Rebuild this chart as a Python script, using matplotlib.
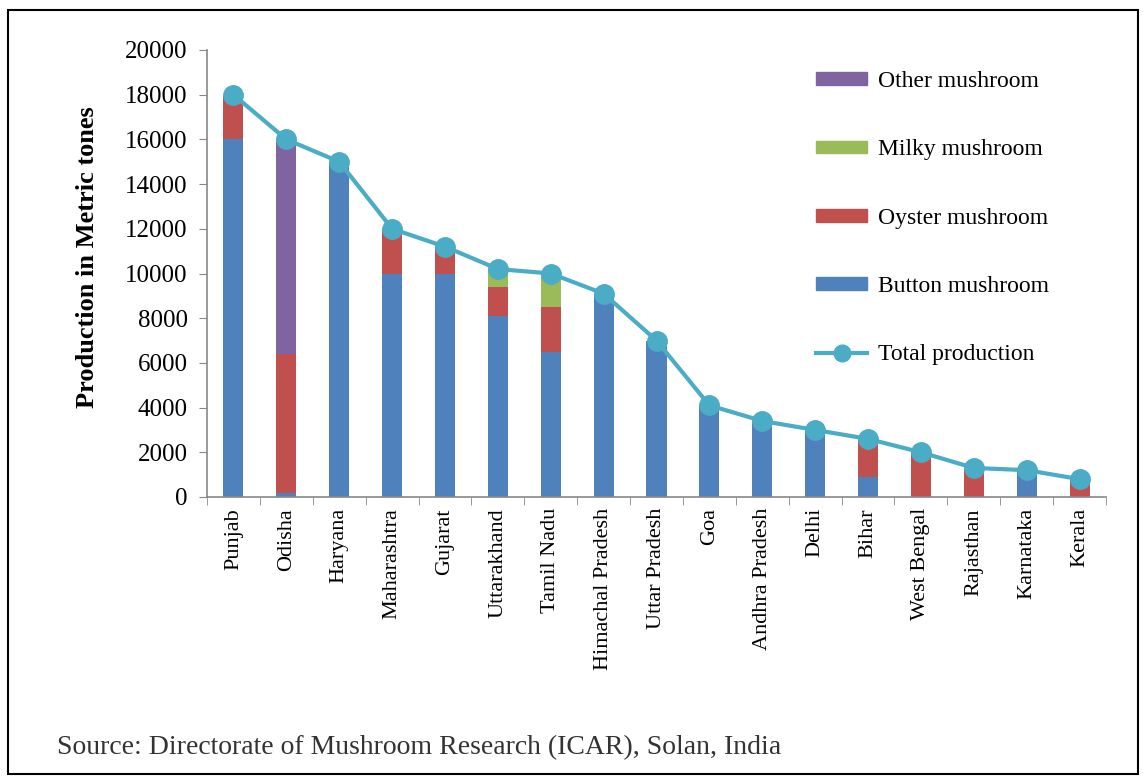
import numpy as np
import matplotlib.pyplot as plt
from matplotlib.patches import Rectangle
from matplotlib.lines import Line2D

# Mushroom production by state (metric tonnes)
states = ['Punjab', 'Odisha', 'Haryana', 'Maharashtra', 'Gujarat', 'Uttarakhand',
          'Tamil Nadu', 'Himachal Pradesh', 'Uttar Pradesh', 'Goa', 'Andhra Pradesh',
          'Delhi', 'Bihar', 'West Bengal', 'Rajasthan', 'Karnataka', 'Kerala']
button = [16000, 200, 15000, 10000, 10000, 8100, 6500, 9100, 7000, 4100, 3200,
          3000, 900, 0, 0, 1200, 0]
oyster = [2000, 6200, 0, 2000, 1200, 1300, 2000, 0, 0, 0, 200,
          0, 1700, 2000, 1300, 0, 800]
milky = [0, 0, 0, 0, 0, 800, 1500, 0, 0, 0, 0, 0, 0, 0, 0, 0, 0]
other = [0, 9600, 0, 0, 0, 0, 0, 0, 0, 0, 0, 0, 0, 0, 0, 0, 0]
total = [18000, 16000, 15000, 12000, 11200, 10200, 10000, 9100, 7000, 4100, 3400,
         3000, 2600, 2000, 1300, 1200, 800]

c_button = '#4f81bd'
c_oyster = '#c0504d'
c_milky = '#9bbb59'
c_other = '#8064a2'
c_total = '#4bacc6'

plt.rcParams['font.family'] = ['Liberation Serif', 'DejaVu Serif']

fig = plt.figure(figsize=(11.48, 7.76), dpi=100)
ax = fig.add_axes([207 / 1148, 1 - 497 / 776, (1106 - 207) / 1148, (497 - 50) / 776])

x = np.arange(len(states))
w = 0.38
b1 = np.array(button)
b2 = b1 + np.array(oyster)
b3 = b2 + np.array(milky)
ax.bar(x, button, w, color=c_button, zorder=2)
ax.bar(x, oyster, w, bottom=b1, color=c_oyster, zorder=2)
ax.bar(x, milky, w, bottom=b2, color=c_milky, zorder=2)
ax.bar(x, other, w, bottom=b3, color=c_other, zorder=2)
ax.plot(x, total, color=c_total, lw=3, marker='o', ms=14, zorder=3)

ax.set_xlim(-0.5, len(states) - 0.5)
ax.set_ylim(0, 20000)
ax.set_yticks(np.arange(0, 20001, 2000))
ax.tick_params(axis='y', labelsize=18, length=6, color='#888888', pad=8)
ax.set_xticks(x)
ax.set_xticklabels(states, rotation=90, fontsize=16)
ax.tick_params(axis='x', length=0, pad=8)
ax.set_xticks(np.arange(-0.5, len(states)), minor=True)
ax.tick_params(axis='x', which='minor', length=6, color='#888888')
for s in ['top', 'right']:
    ax.spines[s].set_visible(False)
for s in ['left', 'bottom']:
    ax.spines[s].set_color('#888888')
    ax.spines[s].set_linewidth(1.2)
ax.set_ylabel('Production in Metric tones', fontsize=19, fontweight='bold')
ax.yaxis.set_label_coords(-0.12, 0.537)

handles = [Rectangle((0, 0), 1, 1, color=c_other),
           Rectangle((0, 0), 1, 1, color=c_milky),
           Rectangle((0, 0), 1, 1, color=c_oyster),
           Rectangle((0, 0), 1, 1, color=c_button),
           Line2D([], [], color=c_total, lw=3, marker='o', ms=12)]
labels = ['Other mushroom', 'Milky mushroom', 'Oyster mushroom', 'Button mushroom',
          'Total production']
ax.legend(handles, labels, loc='upper left', bbox_to_anchor=(795 / 1148, 1 - 50 / 776),
          bbox_transform=fig.transFigure, frameon=False, fontsize=17,
          labelspacing=2.0, handlelength=2.15, handleheight=0.45, handletextpad=0.45)

fig.text(57 / 1148, 1 - 748 / 776, 'Source: Directorate of Mushroom Research (ICAR), Solan, India',
         fontsize=20, va='center', color='#333333')

fig.add_artist(Rectangle((8 / 1148, 2 / 776), 1130 / 1148, 764 / 776, transform=fig.transFigure,
                         fill=False, ec='black', lw=1.5))

fig.savefig('out.png', dpi=100)
